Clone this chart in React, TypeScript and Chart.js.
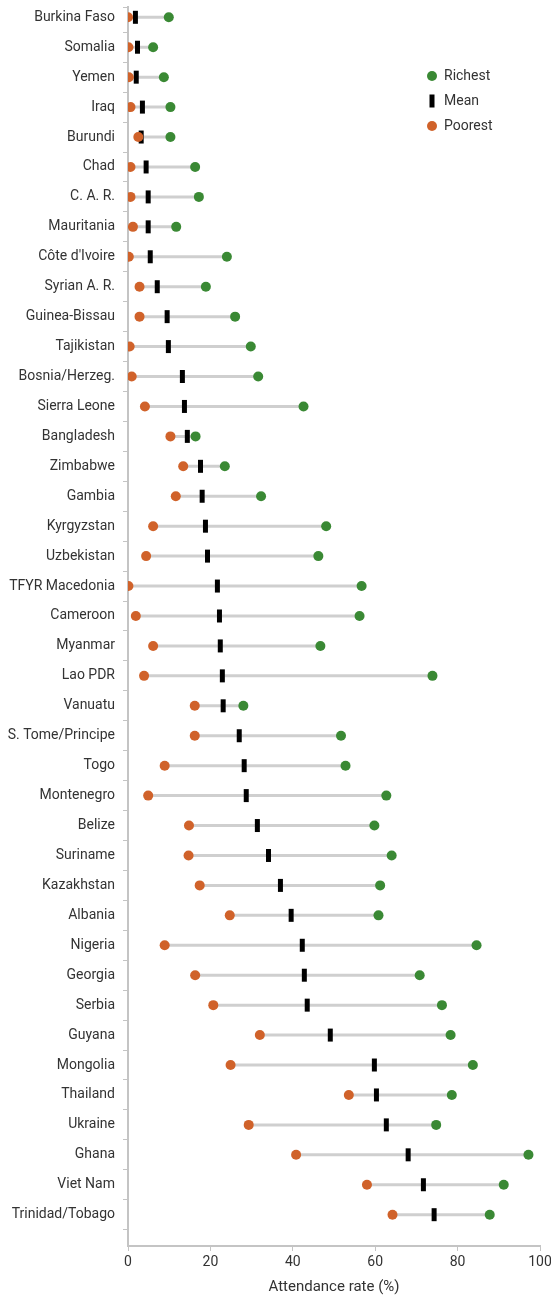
import React, { useEffect, useRef } from "react";
import { Chart, registerables } from "chart.js";

Chart.register(...registerables);

const COUNTRIES = [
  "Burkina Faso", "Somalia", "Yemen", "Iraq", "Burundi", "Chad", "C. A. R.", "Mauritania",
  "Côte d'Ivoire", "Syrian A. R.", "Guinea-Bissau", "Tajikistan", "Bosnia/Herzeg.", "Sierra Leone",
  "Bangladesh", "Zimbabwe", "Gambia", "Kyrgyzstan", "Uzbekistan", "TFYR Macedonia", "Cameroon",
  "Myanmar", "Lao PDR", "Vanuatu", "S. Tome/Principe", "Togo", "Montenegro", "Belize", "Suriname",
  "Kazakhstan", "Albania", "Nigeria", "Georgia", "Serbia", "Guyana", "Mongolia", "Thailand",
  "Ukraine", "Ghana", "Viet Nam", "Trinidad/Tobago",
];

const POOREST = [
  0, 0.1, 0.2, 0.6, 2.5, 0.6, 0.6, 1.2, 0.2, 2.8, 2.8, 0.4, 0.9, 4.1, 10.3, 13.4, 11.6, 6.1, 4.4, 0.1,
  1.9, 6.1, 3.9, 16.2, 16.2, 8.9, 4.9, 14.8, 14.7, 17.4, 24.7, 8.9, 16.3, 20.7, 32.0, 24.9, 53.6, 29.3,
  40.8, 58.0, 64.2,
];

const MEAN = [
  1.8, 2.3, 2.0, 3.5, 3.2, 4.4, 4.9, 4.9, 5.4, 7.1, 9.5, 9.8, 13.2, 13.7, 14.4, 17.6, 18.0, 18.8, 19.3,
  21.7, 22.2, 22.4, 22.9, 23.1, 27.0, 28.2, 28.7, 31.4, 34.1, 37.0, 39.6, 42.3, 42.8, 43.5, 49.1, 59.8,
  60.3, 62.7, 68.0, 71.7, 74.3,
];

const RICHEST = [
  9.9, 6.1, 8.7, 10.3, 10.3, 16.3, 17.2, 11.7, 24.0, 18.9, 26.0, 29.8, 31.6, 42.6, 16.4, 23.5, 32.3,
  48.1, 46.2, 56.7, 56.2, 46.7, 73.9, 28.0, 51.7, 52.8, 62.7, 59.8, 64.0, 61.2, 60.8, 84.6, 70.8, 76.2,
  78.3, 83.7, 78.6, 74.8, 97.2, 91.2, 87.8,
];

const X_TICKS = [0, 20, 40, 60, 80, 100];
const X_TITLE = "Attendance rate (%)";

const Y_MIN = -0.344;
const Y_MAX = 41.046;

const GREEN = "#3a8934";
const ORANGE = "#d0622a";
const GRAY = "#cfcfcf";
const AXIS = "#c4c4c4";
const TEXT = "#333333";
const FONT = "Roboto";

const legendPlugin = {
  id: "dumbbellLegend",
  afterDraw(chart: any) {
    const { ctx, chartArea } = chart;
    const x0 = chartArea.right - 108;
    const y0 = chartArea.top + 69;
    const items = chart.data.datasets.filter((d: any) => d.inLegend);
    ctx.save();
    items.forEach((d: any, i: number) => {
      const y = y0 + i * 25;
      if (d.pointStyle === "line") {
        ctx.fillStyle = d.borderColor;
        ctx.fillRect(x0 - 2.5, y - 6.5, 5, 13);
      } else {
        ctx.fillStyle = d.backgroundColor;
        ctx.beginPath();
        ctx.arc(x0, y, 5, 0, Math.PI * 2);
        ctx.fill();
      }
      ctx.fillStyle = TEXT;
      ctx.font = `14px ${FONT}`;
      ctx.textAlign = "left";
      ctx.textBaseline = "middle";
      ctx.fillText(d.label, x0 + 12, y);
    });
    ctx.restore();
  },
};

export default function App() {
  const ref = useRef<HTMLCanvasElement | null>(null);

  useEffect(() => {
    if (!ref.current) return;
    const rangeData: any[] = [];
    COUNTRIES.forEach((_, i) => {
      rangeData.push({ x: POOREST[i], y: i });
      rangeData.push({ x: RICHEST[i], y: i });
      rangeData.push({ x: null, y: i });
    });
    const yTicks: number[] = [Y_MIN];
    COUNTRIES.forEach((_, i) => {
      yTicks.push(i);
      yTicks.push(i + 0.5);
    });

    const chart = new Chart(ref.current, {
      type: "scatter",
      data: {
        datasets: [
          {
            label: "Richest",
            inLegend: true,
            data: RICHEST.map((v, i) => ({ x: v, y: i })),
            backgroundColor: GREEN,
            borderColor: GREEN,
            pointRadius: 5,
            pointBorderWidth: 0,
            pointStyle: "circle",
            order: 0,
          },
          {
            label: "Mean",
            inLegend: true,
            data: MEAN.map((v, i) => ({ x: v, y: i })),
            backgroundColor: "#000000",
            borderColor: "#000000",
            pointStyle: "line",
            pointRotation: 90,
            pointRadius: 6.5,
            pointBorderWidth: 5,
            order: 2,
          },
          {
            label: "Poorest",
            inLegend: true,
            data: POOREST.map((v, i) => ({ x: v, y: i })),
            backgroundColor: ORANGE,
            borderColor: ORANGE,
            pointRadius: 5,
            pointBorderWidth: 0,
            pointStyle: "circle",
            order: 1,
          },
          {
            label: "Range",
            inLegend: false,
            data: rangeData,
            showLine: true,
            spanGaps: false,
            borderColor: GRAY,
            borderWidth: 3,
            pointRadius: 0,
            order: 3,
          },
        ] as any,
      },
      options: {
        animation: false,
        responsive: false,
        maintainAspectRatio: false,
        layout: { autoPadding: false, padding: { top: 7, right: 11, left: 0, bottom: 0 } },
        plugins: {
          legend: { display: false },
          tooltip: { enabled: false },
        },
        scales: {
          x: {
            type: "linear",
            min: 0,
            max: 100,
            afterBuildTicks: (scale: any) => {
              scale.ticks = X_TICKS.map((v) => ({ value: v }));
            },
            afterFit: (scale: any) => {
              scale.height = 52;
              scale.paddingLeft = 0;
              scale.paddingRight = 0;
            },
            grid: {
              drawOnChartArea: false,
              drawTicks: true,
              tickLength: 5,
              tickColor: AXIS,
              tickWidth: 1,
            },
            border: { display: true, color: AXIS, width: 2 },
            ticks: {
              color: TEXT,
              font: { family: FONT, size: 14 },
              padding: 3,
              maxRotation: 0,
              autoSkip: false,
            },
            title: {
              display: true,
              text: X_TITLE,
              color: TEXT,
              font: { family: FONT, size: 15 },
              padding: { top: 4, bottom: 2 },
            },
          },
          y: {
            type: "linear",
            reverse: true,
            min: Y_MIN,
            max: Y_MAX,
            afterBuildTicks: (scale: any) => {
              scale.ticks = yTicks.map((v) => ({ value: v }));
            },
            afterFit: (scale: any) => {
              scale.width = 128;
              scale.paddingTop = 0;
              scale.paddingBottom = 0;
            },
            grid: {
              drawOnChartArea: false,
              drawTicks: true,
              tickLength: 5,
              tickWidth: 1,
              tickColor: (ctx: any) =>
                ctx.tick && Number.isInteger(ctx.tick.value) ? "rgba(0,0,0,0)" : AXIS,
            },
            border: { display: true, color: AXIS, width: 2 },
            ticks: {
              color: TEXT,
              font: { family: FONT, size: 14 },
              padding: 8,
              autoSkip: false,
              callback: (value: any) =>
                Number.isInteger(value) && COUNTRIES[value] !== undefined ? COUNTRIES[value] : "",
            },
          },
        },
      },
      plugins: [legendPlugin],
    });
    return () => chart.destroy();
  }, []);

  return (
    <div style={{ position: "absolute", left: 0, top: 0, width: 551, height: 1298, background: "#fff" }}>
      <canvas ref={ref} width={551} height={1298} style={{ display: "block" }} />
    </div>
  );
}
